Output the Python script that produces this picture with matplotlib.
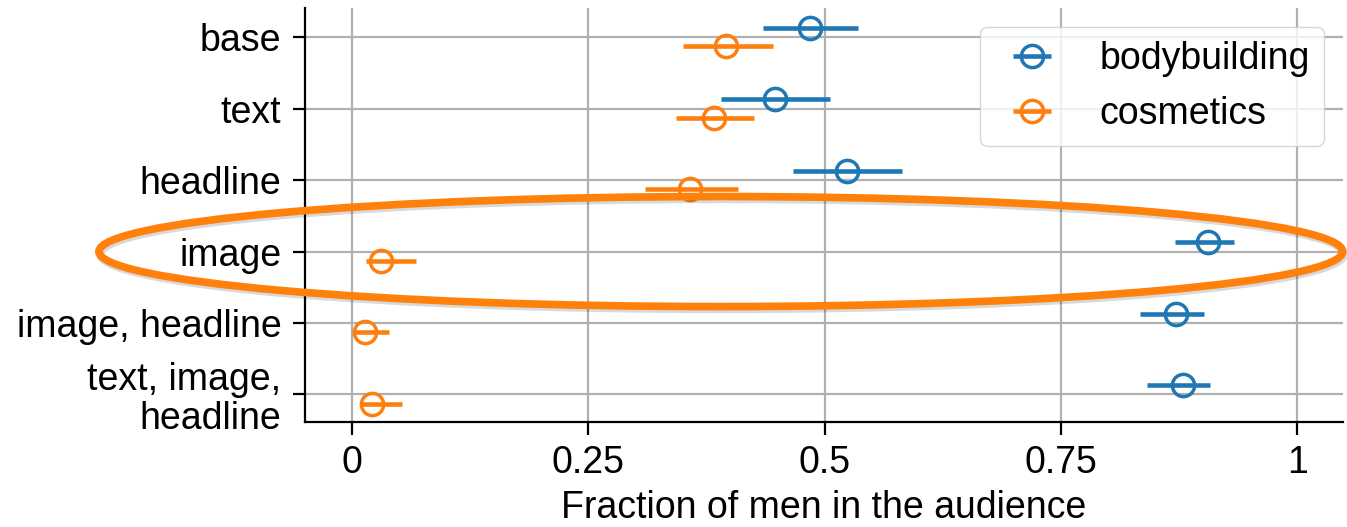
import numpy as np
import matplotlib.pyplot as plt
from matplotlib.patches import Ellipse
import matplotlib.patheffects as pe

###Data

conditions = ['base', 'text', 'headline', 'image', 'image, headline', 'text, image,\nheadline']

body_mean = [0.484, 0.447, 0.524, 0.906, 0.872, 0.879]
body_low = [0.435, 0.390, 0.466, 0.871, 0.834, 0.841]
body_high = [0.535, 0.506, 0.582, 0.933, 0.901, 0.908]

cosm_mean = [0.396, 0.383, 0.357, 0.030, 0.013, 0.021]
cosm_low = [0.350, 0.343, 0.310, 0.015, 0.002, 0.010]
cosm_high = [0.445, 0.425, 0.408, 0.067, 0.039, 0.053]

xticks = [0, 0.25, 0.5, 0.75, 1]
xtick_labels = ['0', '0.25', '0.5', '0.75', '1']

###Figure Settings
plt.rcParams['font.family'] = ['Liberation Sans', 'DejaVu Sans']
plt.rcParams['font.size'] = 27

fig = plt.figure(figsize=(13.47, 5.27), dpi=100)
ax = fig.add_axes([0.2264, 0.2, 0.7704, 0.785])

y = np.arange(len(conditions))
off = 0.13

def err(mean, low, high):
    mean = np.array(mean)
    return np.vstack([mean - np.array(low), np.array(high) - mean])

blue = '#1f77b4'
orange = '#ff7f0e'

ax.errorbar(body_mean, y - off, xerr=err(body_mean, body_low, body_high), fmt='o', color=blue,
            mfc='none', ms=16, mew=2.5, elinewidth=3.3, capsize=0, label='bodybuilding')
ax.errorbar(cosm_mean, y + off, xerr=err(cosm_mean, cosm_low, cosm_high), fmt='o', color=orange,
            mfc='none', ms=16, mew=2.5, elinewidth=3.3, capsize=0, label='cosmetics')

#Axis Limits & Titles
ax.set_xlim(-0.05, 1.048)
ax.set_ylim(5.38, -0.41)
ax.set_xticks(xticks)
ax.set_xticklabels(xtick_labels)
ax.set_yticks(y)
ax.set_yticklabels(conditions, linespacing=1.1)
ax.set_xlabel('Fraction of men in the audience', labelpad=6)
ax.grid(color='#b0b0b0', linewidth=1.6)
ax.set_axisbelow(True)

for s in ['top', 'right']:
    ax.spines[s].set_visible(False)
for s in ['left', 'bottom']:
    ax.spines[s].set_linewidth(1.6)
ax.tick_params(length=9, width=1.6, pad=8)

ax.legend(loc='upper right', handlelength=2.0, handletextpad=0.8, borderpad=0.38,
          labelspacing=0.5, borderaxespad=0.5, framealpha=0.8, edgecolor='#cccccc')

#Highlight ellipse round the image row
ell = Ellipse((0.39, 3.0), 1.316, 1.54, fill=False, edgecolor='#ff800a', linewidth=5.5,
              clip_on=False, zorder=10,
              path_effects=[pe.SimpleLineShadow(offset=(1, -2), alpha=0.15), pe.Normal()])
ax.add_patch(ell)

plt.savefig('out.png', dpi=100)
